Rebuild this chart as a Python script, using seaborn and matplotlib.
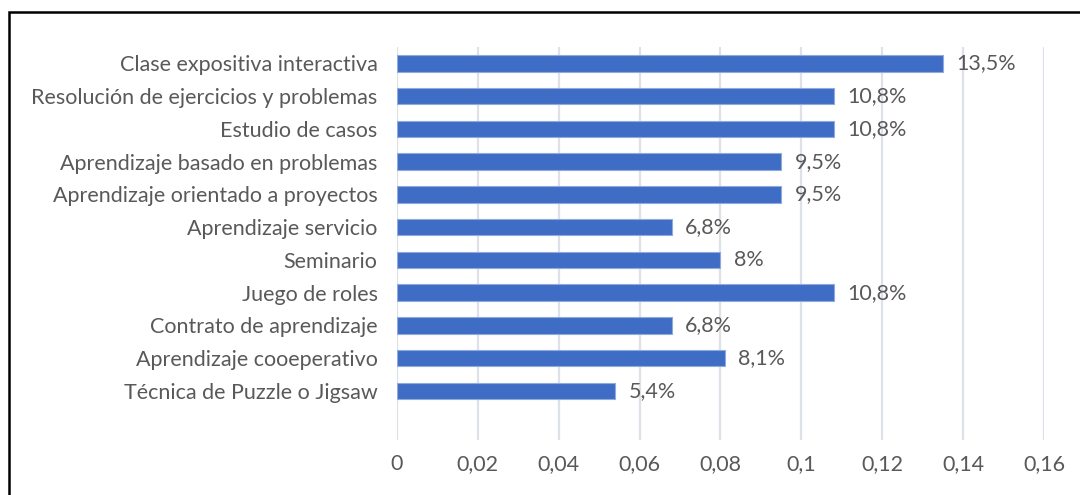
import matplotlib
matplotlib.use("Agg")
import matplotlib.pyplot as plt
import seaborn as sns
import pandas as pd
from matplotlib.patches import Rectangle

# datos
metodos = [
    "Clase expositiva interactiva",
    "Resolución de ejercicios y problemas",
    "Estudio de casos",
    "Aprendizaje basado en problemas",
    "Aprendizaje orientado a proyectos",
    "Aprendizaje servicio",
    "Seminario",
    "Juego de roles",
    "Contrato de aprendizaje",
    "Aprendizaje cooeperativo",
    "Técnica de Puzzle o Jigsaw",
]
valores = [0.135, 0.108, 0.108, 0.095, 0.095, 0.068, 0.08, 0.108, 0.068, 0.081, 0.054]
etiquetas = ["13,5%", "10,8%", "10,8%", "9,5%", "9,5%", "6,8%", "8%",
             "10,8%", "6,8%", "8,1%", "5,4%"]
xticks = [0, 0.02, 0.04, 0.06, 0.08, 0.1, 0.12, 0.14, 0.16]
xtick_labels = ["0", "0,02", "0,04", "0,06", "0,08", "0,1", "0,12", "0,14", "0,16"]

df = pd.DataFrame({"metodo": metodos, "valor": valores})

sns.set_style("white")
plt.rcParams["font.family"] = ["Lato", "DejaVu Sans"]
gris = "#595959"
fs = 15.5

fig = plt.figure(figsize=(10.8, 4.95), dpi=100)
ax = fig.add_axes([0.3676, 0.111, 0.599, 0.794])

sns.barplot(data=df, x="valor", y="metodo", color="#3F6CC4", width=0.5,
            edgecolor="#8FAADC", linewidth=0.8, saturation=1, ax=ax, zorder=3)

for i, (v, t) in enumerate(zip(valores, etiquetas)):
    ax.text(v + 0.0033, i, t, va="center", ha="left", fontsize=fs, color=gris)

ax.set_xlim(0, 0.16)
ax.set_ylim(11.5, -0.5)
ax.set_xticks(xticks)
ax.set_xticklabels(xtick_labels)
ax.set_xlabel("")
ax.set_ylabel("")
ax.xaxis.grid(True, color="#DDE2EA", linewidth=1.6, zorder=0)
ax.set_axisbelow(True)
for s in ax.spines.values():
    s.set_visible(False)
ax.tick_params(axis="x", length=0, pad=10, labelsize=fs, labelcolor=gris)
ax.tick_params(axis="y", length=0, pad=14, labelsize=fs, labelcolor=gris)

# marco del grafico
fig.patches.append(Rectangle((9 / 1080, -0.1), 1.2, 1 - 12 / 495 + 0.1,
                             transform=fig.transFigure, fill=False,
                             edgecolor="black", linewidth=1.8))

fig.savefig("out.png", dpi=100, facecolor="white")
